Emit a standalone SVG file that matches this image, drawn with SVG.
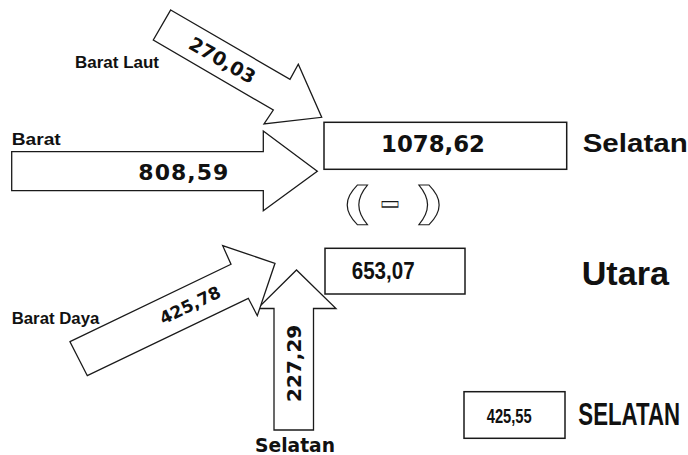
<svg xmlns="http://www.w3.org/2000/svg" width="688" height="455" viewBox="0 0 688 455">
  <defs>
    <style>
      .arrow { fill: #ffffff; stroke: #1a1a1a; stroke-width: 1.3; stroke-linejoin: miter; }
      .box { fill: #ffffff; stroke: #1a1a1a; stroke-width: 1.5; }
      .num { font-family: "DejaVu Sans", "Verdana", sans-serif; font-weight: bold; fill: #111; }
      .lbl { font-family: "Liberation Sans", Arial, sans-serif; font-weight: bold; fill: #111; }
      .wide { font-family: "DejaVu Sans", sans-serif; font-weight: bold; fill: #111; }
      .outline { fill: #ffffff; stroke: #1a1a1a; stroke-width: 0.8; }
    </style>
  </defs>
  <rect x="0" y="0" width="688" height="455" fill="#ffffff"/>

  <!-- flow arrows -->
  <g id="connectors">
    <g id="arrow-barat-laut">
      <polygon class="arrow" points="170.7,10 290,79.3 298.3,64.3 321.7,117.3 264,124 273.3,110 153.3,40"/>
      <text class="num" font-size="19" text-anchor="middle" transform="translate(222.5,60) rotate(30)" x="0" y="7">270,03</text>
    </g>
    <g id="arrow-barat">
      <polygon class="arrow" points="11.7,151.7 263.3,151.7 263.3,131 317.3,171.2 263.3,210.7 263.3,190.7 11.7,190.7"/>
      <text class="num" font-size="22" x="138.3" y="180" textLength="90" lengthAdjust="spacing">808,59</text>
    </g>
    <g id="arrow-selatan">
      <polygon class="arrow" points="274,430 274,308.5 257.5,308.5 296.5,270 336,308.5 313.5,308.5 313.5,430"/>
      <text class="num" font-size="20" text-anchor="middle" transform="translate(294,363.3) rotate(-90)" x="0" y="7.3">227,29</text>
    </g>
    <g id="arrow-barat-daya">
      <polygon class="arrow" points="70,341.7 231,264.3 222.7,245.7 275,263.3 257.3,315.7 248.3,298.3 87.3,375.7"/>
      <text class="num" font-size="17" text-anchor="middle" transform="translate(190,305) rotate(-25.7)" x="0" y="6.2">425,78</text>
    </g>
  </g>

  <!-- direction labels -->
  <g id="label-barat-laut"><text class="lbl" font-size="17" x="75" y="68.3" textLength="84" lengthAdjust="spacingAndGlyphs">Barat Laut</text></g>
  <g id="label-barat"><text class="lbl" font-size="17" x="11.7" y="145" textLength="49" lengthAdjust="spacingAndGlyphs">Barat</text></g>
  <g id="label-barat-daya"><text class="lbl" font-size="16" x="11.7" y="324.3" textLength="87.6" lengthAdjust="spacingAndGlyphs">Barat Daya</text></g>
  <g id="label-selatan-bawah"><text class="wide" font-size="18.6" x="255" y="451.7" textLength="80" lengthAdjust="spacingAndGlyphs">Selatan</text></g>

  <!-- total from the south side -->
  <g id="node-total-selatan">
    <rect class="box" x="324" y="122.3" width="242.7" height="47"/>
    <text class="num" font-size="23" x="381" y="151.7" textLength="104" lengthAdjust="spacingAndGlyphs">1078,62</text>
    <text class="lbl" font-size="26.5" x="582.7" y="151.7" textLength="105" lengthAdjust="spacingAndGlyphs">Selatan</text>
  </g>

  <!-- minus sign in outlined brackets -->
  <g id="node-minus">
    <text class="outline" font-family="DejaVu Sans, sans-serif" font-weight="bold" font-size="45" transform="translate(346,219) scale(1.55,1)" x="-3" y="0">(</text>
    <text class="outline" font-family="Liberation Sans, Arial, sans-serif" font-weight="bold" font-size="32" transform="translate(381,204.5) scale(1,1.7)" x="0" y="8.6" textLength="18" lengthAdjust="spacingAndGlyphs">–</text>
    <text class="outline" font-family="DejaVu Sans, sans-serif" font-weight="bold" font-size="45" transform="translate(418,219) scale(1.55,1)" x="-3" y="0">)</text>
  </g>

  <!-- total from the north side -->
  <g id="node-total-utara">
    <rect class="box" x="325" y="248.3" width="140" height="45.7"/>
    <text class="lbl" font-size="23" x="351.7" y="279.3" textLength="63" lengthAdjust="spacingAndGlyphs">653,07</text>
    <text class="lbl" font-size="32.5" x="581.7" y="285" textLength="87.3" lengthAdjust="spacingAndGlyphs">Utara</text>
  </g>

  <!-- net result -->
  <g id="node-hasil">
    <rect class="box" x="464" y="391.7" width="101" height="46.6"/>
    <text class="lbl" font-size="15" transform="translate(486.7,423.3) scale(1,1.4)" x="0" y="0" textLength="45" lengthAdjust="spacingAndGlyphs">425,55</text>
    <text class="lbl" font-size="21.5" transform="translate(578.3,425) scale(1,1.5)" x="0" y="0" textLength="101.7" lengthAdjust="spacingAndGlyphs">SELATAN</text>
  </g>
</svg>
